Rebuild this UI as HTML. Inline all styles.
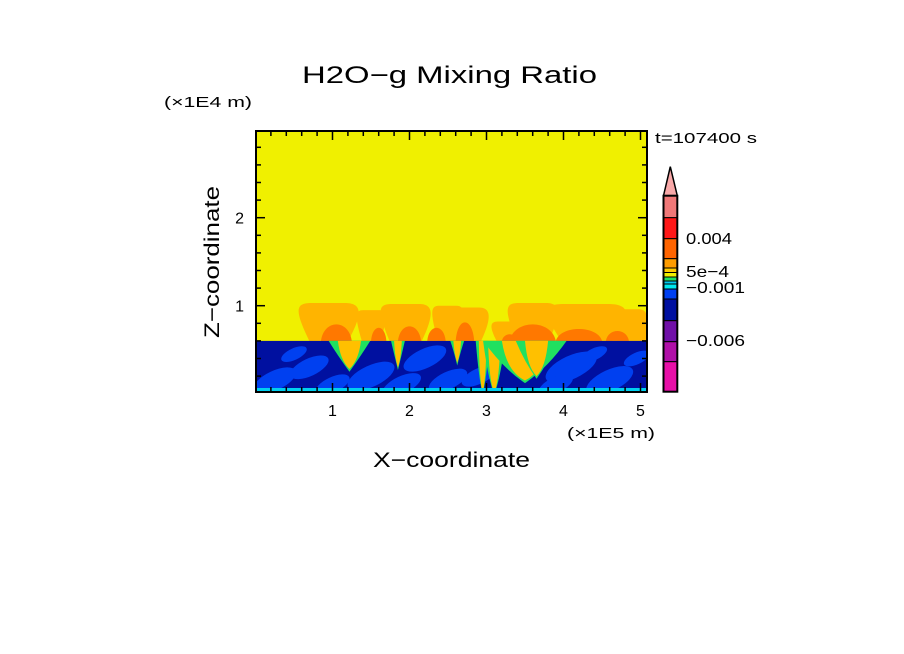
<!DOCTYPE html>
<html><head><meta charset="utf-8">
<style>
html,body{margin:0;padding:0;background:#fff;}
svg{display:block;font-family:"Liberation Sans",sans-serif;}
</style></head>
<body>
<svg id="chart" width="904" height="654" viewBox="0 0 904 654">
<defs><clipPath id="plotClip"><rect x="256" y="131" width="391" height="261"/></clipPath></defs>
<text x="302" y="83" font-size="24" textLength="295" lengthAdjust="spacingAndGlyphs">H2O−g Mixing Ratio</text>
<text x="164" y="107" font-size="15" textLength="88" lengthAdjust="spacingAndGlyphs">(×1E4 m)</text>
<text x="655" y="143" font-size="15" textLength="102" lengthAdjust="spacingAndGlyphs">t=107400 s</text>
<text transform="translate(219,262) rotate(-90)" text-anchor="middle" font-size="21" textLength="152" lengthAdjust="spacingAndGlyphs">Z−coordinate</text>
<text x="373" y="467" font-size="21" textLength="157" lengthAdjust="spacingAndGlyphs">X−coordinate</text>
<text x="567" y="438" font-size="15" textLength="88" lengthAdjust="spacingAndGlyphs">(×1E5 m)</text>
<g id="field" clip-path="url(#plotClip)"></g>
<g id="axes"></g>
<g id="cbar"></g>
</svg>
<script>
// ---- data ----
const xTicks=[1,2,3,4,5];
const yTicks=[1,2];
const boundaryZ=0.6;
const plumeX=[0.95,1.5,1.95,2.5,2.75,3.25,3.6,4.3,4.85,5.05];
const plumeHalfW=[0.42,0.2,0.35,0.22,0.3,0.2,0.35,0.55,0.25,0.1];
const plumeTop=[1.03,0.95,1.02,1.0,0.98,0.82,1.03,1.02,0.96,0.9];
const coreX=[1.05,1.6,2.0,2.35,2.72,3.3,3.6,4.2,4.7];
const coreHalfW=[0.2,0.1,0.15,0.12,0.12,0.1,0.3,0.3,0.15];
const coreTop=[0.85,0.8,0.82,0.8,0.88,0.7,0.85,0.78,0.75];
const columnX=[1.22,1.85,2.62,2.95,3.1,3.5,3.65];
const columnHalfW=[0.15,0.05,0.05,0.05,0.08,0.3,0.15];
const columnBottom=[0.28,0.3,0.35,0.02,0.02,0.15,0.2];
const swirlX=[0.25,0.7,1.5,2.2,2.9,3.2,4.1,4.6,4.95,0.5,1.9,4.4,1.0,2.5,3.9];
const swirlZ=[0.15,0.3,0.2,0.4,0.2,0.45,0.3,0.15,0.4,0.45,0.1,0.45,0.1,0.15,0.1];
const swirlR=[0.5,0.45,0.55,0.5,0.4,0.35,0.6,0.55,0.3,0.3,0.45,0.3,0.4,0.45,0.4];
const cbLevels=["tri","salmon","red","orange1","orange2","gold","yellow","green","sep","cyan","blue","dblue","purple","violet","magenta"];
const cbColors=["#f8a8a8","#f07878","#ff1818","#ff6400","#ff9c00","#ffcc00","#f0f000","#20e060","#00c8f0","#00e8f0","#0040f0","#0010a0","#7010a8","#b010a8","#e810a8"];
const cbLabels=["0.004","5e-4","-0.001","-0.006"];
// ---- axes ----
const X0=255.5, XS=77, Z0=393.7, ZS=88;
const sx=v=>X0+v*XS, sy=v=>Z0-v*ZS;
const NS="http://www.w3.org/2000/svg";
function mk(tag,attrs,parent){const e=document.createElementNS(NS,tag);for(const k in attrs)e.setAttribute(k,attrs[k]);parent.appendChild(e);return e;}
const field=document.getElementById('field');
let e=mk('rect',{x:256,y:131,width:391,height:261,fill:'#f0f000'},field);


// plumes (rounded cloud shapes)
plumeX.forEach((x,i)=>{
 const w=plumeHalfW[i], t=plumeTop[i];
 const d=`M${sx(x-w*0.6)},${sy(boundaryZ)} C${sx(x-w*1.1)},${sy(t-0.05)} ${sx(x-w)},${sy(t)} ${sx(x-w*0.5)},${sy(t)} L${sx(x+w*0.5)},${sy(t)} C${sx(x+w)},${sy(t)} ${sx(x+w*1.1)},${sy(t-0.1)} ${sx(x+w*0.6)},${sy(boundaryZ)} Z`;
 const p=mk('path',{d,fill:'#ffb400'},field);
 
 
});
coreX.forEach((x,i)=>{
 const w=coreHalfW[i], t=coreTop[i];
 const d=`M${sx(x-w)},${sy(boundaryZ)} C${sx(x-w*0.8)},${sy(t)} ${sx(x+w*0.8)},${sy(t)} ${sx(x+w)},${sy(boundaryZ)} Z`;
 const p=mk('path',{d,fill:'#ff7800'},field);
 
 
});
// lower region
e=mk('rect',{x:256,y:sy(boundaryZ),width:391,height:Z0-sy(boundaryZ),fill:'#0010a0'},field);


swirlX.forEach((x,i)=>{
 const r=swirlR[i];
 const s=mk('ellipse',{cx:sx(x),cy:sy(swirlZ[i]),rx:r*XS*0.6,ry:r*ZS*0.22,fill:'#0040f0',transform:`rotate(-25 ${sx(x)} ${sy(swirlZ[i])})`},field);
 
 
});
columnX.forEach((x,i)=>{
 const w=columnHalfW[i], b=columnBottom[i];
 const g1=mk('path',{d:`M${sx(x-w*1.8)},${sy(boundaryZ)} Q${sx(x-w)},${sy(b+0.15)} ${sx(x)},${sy(b-0.03)} Q${sx(x+w)},${sy(b+0.15)} ${sx(x+w*1.8)},${sy(boundaryZ)} Z`,fill:'#20e060'},field);
 
 
 const c=mk('path',{d:`M${sx(x-w)},${sy(boundaryZ)} Q${sx(x-w*0.8)},${sy(b+0.1)} ${sx(x)},${sy(b)} Q${sx(x+w*0.8)},${sy(b+0.1)} ${sx(x+w)},${sy(boundaryZ)} Z`,fill:'#ffc000'},field);
 
 
});
e=mk('rect',{x:256,y:388,width:391,height:4,fill:'#00d0f0'},field);


// frame & ticks
const axes=document.getElementById('axes');
e=mk('rect',{x:256,y:131,width:391,height:261,fill:'none',stroke:'#000','stroke-width':2},axes);


for(let v=0.2;v<5.1;v+=0.2){const major=Math.abs(v-Math.round(v))<1e-6;const L=major?9:5;
 mk('line',{x1:sx(v),x2:sx(v),y1:392,y2:392-L,stroke:'#000','stroke-width':1.5},axes);
 mk('line',{x1:sx(v),x2:sx(v),y1:131,y2:131+L,stroke:'#000','stroke-width':1.5},axes);}
for(let v=0.2;v<2.95;v+=0.2){const major=Math.abs(v-Math.round(v))<1e-6;const L=major?9:5;
 mk('line',{x1:256,x2:256+L,y1:sy(v),y2:sy(v),stroke:'#000','stroke-width':1.5},axes);
 mk('line',{x1:647,x2:647-L,y1:sy(v),y2:sy(v),stroke:'#000','stroke-width':1.5},axes);}
xTicks.forEach(v=>{const t=mk('text',{x:sx(v),y:416,'font-size':16,'text-anchor':'middle'},axes);t.textContent=v;
 
 });
yTicks.forEach(v=>{const t=mk('text',{x:244,y:sy(v)+6,'font-size':16,'text-anchor':'end'},axes);t.textContent=v;
 
 });
// colorbar
const cb=document.getElementById('cbar');
const bounds=[166.7,195.7,217.7,238.7,258.7,268,272.5,277,281,284,289,299,320.7,341.7,361.7,391.7];
cbLevels.forEach((n,i)=>{
 let el;
 if(n==='tri') el=mk('path',{d:`M670.3,${bounds[0]} L663.5,${bounds[1]} L677.3,${bounds[1]} Z`,fill:cbColors[i],stroke:'#000','stroke-width':1.5},cb);
 else el=mk('rect',{x:663.5,y:bounds[i],width:13.8,height:bounds[i+1]-bounds[i],fill:cbColors[i],stroke:'#000','stroke-width':1},cb);
 
 
});
e=mk('rect',{x:663.5,y:195.7,width:13.8,height:196,fill:'none',stroke:'#000','stroke-width':2},cb);


const labY={"0.004":244,"5e-4":277,"-0.001":293,"-0.006":346};
const labW={"0.004":46,"5e-4":43,"-0.001":59,"-0.006":59};
cbLabels.forEach((l,i)=>{const t=mk('text',{x:686,y:labY[l],'font-size':16,textLength:labW[l],lengthAdjust:'spacingAndGlyphs'},cb);t.textContent=l.replace('-','−');
 
 });
</script>
</body></html>
